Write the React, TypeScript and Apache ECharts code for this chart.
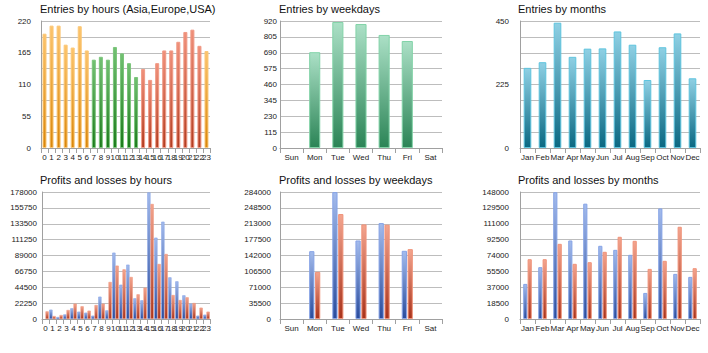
import React, { useEffect, useRef } from "react";
import * as echarts from "echarts";

// ---------- data ----------
const hours = ["0","1","2","3","4","5","6","7","8","9","10","11","12","13","14","15","16","17","18","19","20","21","22","23"];
const hourEntries = [198, 212, 212, 179, 174, 211, 169, 153, 158, 153, 175, 164, 147, 123, 137, 118, 147, 169, 169, 184, 201, 205, 177, 168];
const hourRegion = ["Asia","Asia","Asia","Asia","Asia","Asia","Asia","Europe","Europe","Europe","Europe","Europe","Europe","Europe","USA","USA","USA","USA","USA","USA","USA","USA","USA","Asia"];
const hourEntryTicks = [0, 55, 110, 165, 220];

const weekdays = ["Sun", "Mon", "Tue", "Wed", "Thu", "Fri", "Sat"];
const weekdayEntries = [0, 694, 913, 898, 819, 775, 0];
const weekdayEntryTicks = [0, 115, 230, 345, 460, 575, 690, 805, 920];

const months = ["Jan", "Feb", "Mar", "Apr", "May", "Jun", "Jul", "Aug", "Sep", "Oct", "Nov", "Dec"];
const monthEntries = [284, 304, 444, 323, 352, 353, 413, 366, 241, 357, 406, 247];
const monthEntryTicks = [0, 225, 450];

const hourProfits = [0, 13100, 2800, 6500, 15000, 10300, 8900, 4700, 31300, 12100, 93000, 48100, 76200, 29000, 26200, 177500, 114000, 136400, 58400, 52800, 33200, 21500, 4700, 6100];
const hourLosses = [10700, 4200, 5600, 12600, 21500, 17800, 11700, 19600, 21500, 51900, 74800, 69600, 58900, 34600, 43900, 161200, 77100, 91100, 33600, 26600, 30400, 22400, 15900, 10300];
const hourPLTicks = [0, 22250, 44500, 66750, 89000, 111250, 133500, 155750, 178000];

const weekdayProfits = [0, 151700, 283800, 175600, 214500, 152500, 0];
const weekdayLosses = [0, 105400, 234700, 211500, 210800, 156200, 0];
const weekdayPLTicks = [0, 35500, 71000, 106500, 142000, 177500, 213000, 248500, 284000];

const monthProfits = [40900, 60400, 147800, 91500, 134400, 85300, 80600, 74800, 30400, 128900, 52600, 49100];
const monthLosses = [69700, 69700, 87600, 64300, 66200, 78300, 95800, 91100, 58400, 67800, 107500, 59200];
const monthPLTicks = [0, 18500, 37000, 55500, 74000, 92500, 111000, 129500, 148000];

const titles = [
  "Entries by hours (Asia,Europe,USA)",
  "Entries by weekdays",
  "Entries by months",
  "Profits and losses by hours",
  "Profits and losses by weekdays",
  "Profits and losses by months",
];

// ---------- styles ----------
const FONT = "'Liberation Sans', Arial, sans-serif";
const grad = (top: string, bottom: string) =>
  new echarts.graphic.LinearGradient(0, 0, 0, 1, [
    { offset: 0, color: top },
    { offset: 1, color: bottom },
  ]);

const regionStyle: Record<string, any> = {
  Asia: { top: "#fcc46c", bottom: "#d9860a", border: "#fbc879" },
  Europe: { top: "#72c172", bottom: "#1b7a1b", border: "#7cc57c" },
  USA: { top: "#f0907a", bottom: "#b23c20", border: "#f09a86" },
};

const seaStyle = { top: "#abe0c6", bottom: "#2b8456", border: "#82d3a8" };
const tealStyle = { top: "#8fd0e4", bottom: "#0a6882", border: "#5ec4de" };
const blueStyle = { top: "#a3bbec", bottom: "#2a4c9c", border: "#86a3e6" };
const lossStyle = { top: "#f3a58f", bottom: "#a8321a", border: "#f0937a" };

const itemStyleOf = (s: any, bw = 1) => ({
  color: grad(s.top, s.bottom),
  borderColor: s.border,
  borderWidth: bw,
});

// zero values get no outline, so nothing shows where the value is 0
const itemsOf = (values: number[], s: any, bw = 1) =>
  values.map((v) => ({ value: v, itemStyle: itemStyleOf(s, v === 0 ? 0 : bw) }));

// layout of the six panels
const grids = [
  { left: 41, top: 21, width: 169, height: 127 },
  { left: 280, top: 21, width: 162, height: 127 },
  { left: 520, top: 21, width: 180, height: 127 },
  { left: 42, top: 192, width: 168, height: 127 },
  { left: 280, top: 192, width: 162, height: 127 },
  { left: 520, top: 192, width: 180, height: 127 },
];
const titlePos = [
  { left: 40, top: 3 },
  { left: 279, top: 3 },
  { left: 518, top: 3 },
  { left: 40, top: 174 },
  { left: 279, top: 174 },
  { left: 518, top: 174 },
];

const categoriesOf = [hours, weekdays, months, hours, weekdays, months];
const yDefs = [
  { max: 220, interval: 27.5, ticks: hourEntryTicks, margin: 10 },
  { max: 920, interval: 115, ticks: weekdayEntryTicks, margin: 3 },
  { max: 450, interval: 56.25, ticks: monthEntryTicks, margin: 11 },
  { max: 178000, interval: 22250, ticks: hourPLTicks, margin: 5 },
  { max: 284000, interval: 35500, ticks: weekdayPLTicks, margin: 9 },
  { max: 148000, interval: 18500, ticks: monthPLTicks, margin: 11 },
];

function buildOption() {
  const labelStyle = { fontFamily: FONT, fontSize: 8, color: "#222" };
  const xAxis = categoriesOf.map((cats, i) => ({
    type: "category",
    gridIndex: i,
    data: cats,
    boundaryGap: true,
    axisLine: { show: true, lineStyle: { color: "#a0a0a0", width: 1 } },
    axisTick: { show: true, length: 5, alignWithLabel: false, lineStyle: { color: "#a0a0a0" } },
    axisLabel: { ...labelStyle, interval: 0, margin: 5, hideOverlap: false },
    splitLine: { show: false },
  }));
  const yAxis = yDefs.map((d, i) => ({
    type: "value",
    gridIndex: i,
    min: 0,
    max: d.max,
    interval: d.interval,
    axisLine: { show: true, lineStyle: { color: "#a0a0a0", width: 1 } },
    axisTick: { show: false },
    axisLabel: {
      ...labelStyle,
      margin: d.margin,
      showMinLabel: true,
      showMaxLabel: true,
      formatter: (v: number) =>
        d.ticks.some((t) => Math.abs(t - v) < 1e-6) ? String(Math.round(v)) : "",
    },
    splitLine: { show: true, lineStyle: { color: "#bdbdbd", width: 1 } },
  }));

  const series: any[] = [
    {
      type: "bar",
      xAxisIndex: 0,
      yAxisIndex: 0,
      barCategoryGap: "43%",
      data: hourEntries.map((v, k) => ({
        value: v,
        itemStyle: itemStyleOf(regionStyle[hourRegion[k]]),
      })),
    },
    {
      type: "bar",
      xAxisIndex: 1,
      yAxisIndex: 1,
      barCategoryGap: "52%",
      data: itemsOf(weekdayEntries, seaStyle),
    },
    {
      type: "bar",
      xAxisIndex: 2,
      yAxisIndex: 2,
      barCategoryGap: "49%",
      data: itemsOf(monthEntries, tealStyle),
    },
    {
      type: "bar",
      name: "Profits",
      xAxisIndex: 3,
      yAxisIndex: 3,
      barCategoryGap: "8%",
      barGap: "0%",
      data: itemsOf(hourProfits, blueStyle, 0.6),
    },
    {
      type: "bar",
      name: "Losses",
      xAxisIndex: 3,
      yAxisIndex: 3,
      barCategoryGap: "8%",
      barGap: "0%",
      data: itemsOf(hourLosses, lossStyle, 0.6),
    },
    {
      type: "bar",
      name: "Profits",
      xAxisIndex: 4,
      yAxisIndex: 4,
      barCategoryGap: "52%",
      barGap: "12%",
      data: itemsOf(weekdayProfits, blueStyle),
    },
    {
      type: "bar",
      name: "Losses",
      xAxisIndex: 4,
      yAxisIndex: 4,
      barCategoryGap: "52%",
      barGap: "12%",
      data: itemsOf(weekdayLosses, lossStyle),
    },
    {
      type: "bar",
      name: "Profits",
      xAxisIndex: 5,
      yAxisIndex: 5,
      barCategoryGap: "43%",
      barGap: "5%",
      data: itemsOf(monthProfits, blueStyle),
    },
    {
      type: "bar",
      name: "Losses",
      xAxisIndex: 5,
      yAxisIndex: 5,
      barCategoryGap: "43%",
      barGap: "5%",
      data: itemsOf(monthLosses, lossStyle),
    },
  ];

  return {
    animation: false,
    backgroundColor: "#ffffff",
    title: titles.map((t, i) => ({
      text: t,
      ...titlePos[i],
      padding: 0,
      textStyle: { fontFamily: FONT, fontSize: 11, fontWeight: "normal", color: "#111" },
    })),
    grid: grids.map((g) => ({ ...g, containLabel: false })),
    xAxis,
    yAxis,
    series,
  };
}

export default function App() {
  const ref = useRef<HTMLDivElement>(null);
  useEffect(() => {
    if (!ref.current) return;
    const chart = echarts.init(ref.current, null, { renderer: "svg" });
    chart.setOption(buildOption() as any);
    return () => chart.dispose();
  }, []);
  return (
    <div
      ref={ref}
      style={{ position: "fixed", left: 0, top: 0, width: 708, height: 353, background: "#fff" }}
    />
  );
}
